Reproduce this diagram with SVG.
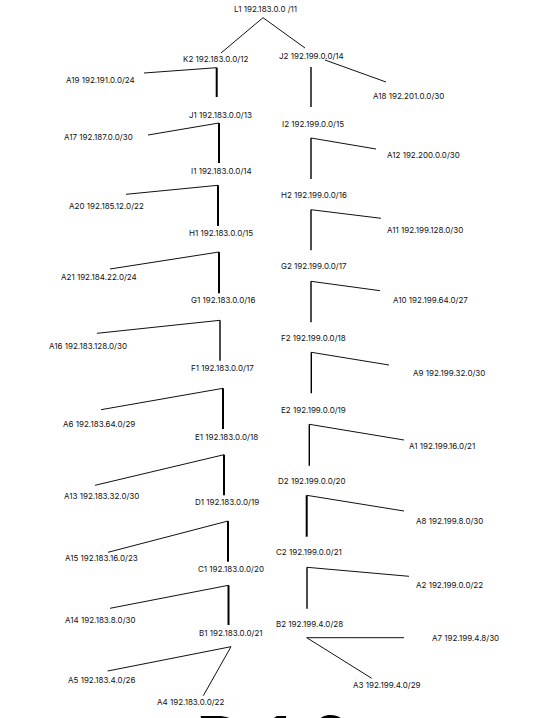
<svg xmlns="http://www.w3.org/2000/svg" width="545" height="718" viewBox="0 0 545 718">
<style>
text{font-family:Inter,"Liberation Sans",sans-serif;font-size:8px;fill:#111}
.big{font-size:72px;font-weight:500;fill:#000;letter-spacing:15px}
.s{stroke:#111;stroke-width:1;fill:none}
.tl{stroke:#000;stroke-width:2;fill:none}
.tr{stroke:#000;stroke-width:1.4;fill:none}
</style>
<rect width="545" height="718" fill="#fff"/>
<g id="connectors">
<path class="s" d="M221,53 L263,17.7 L305,48"/>
<path class="s" d="M144,73 L216.7,67.7"/><path class="tl" d="M216.7,67.7 V97"/>
<path class="s" d="M325,60 L386,82"/><path class="tr" d="M311,67 V107"/>
<path class="s" d="M148,135 L219,123"/><path class="tl" d="M219,123 V163"/>
<path class="s" d="M311,138 L376,149"/><path class="tr" d="M311,138 V179"/>
<path class="s" d="M126,194.3 L218,185.3"/><path class="tl" d="M218,185.3 V226"/>
<path class="s" d="M311,209.7 L381,218.3"/><path class="tr" d="M311,209.7 V250.3"/>
<path class="s" d="M110,269 L219,252"/><path class="tl" d="M219,252 V293.3"/>
<path class="s" d="M311,281.3 L380,290.7"/><path class="tr" d="M311,281.3 V322.3"/>
<path class="s" d="M97,333.3 L220,320.3"/><path class="tr" d="M220,320.3 V360.7"/>
<path class="s" d="M311.3,352.3 L389,365"/><path class="tr" d="M311.3,352.3 V393.3"/>
<path class="s" d="M101,409.7 L223,388.3"/><path class="tl" d="M223,388.3 V429"/>
<path class="s" d="M309.3,424.3 L404,440"/><path class="tr" d="M309.3,424.3 V465.7"/>
<path class="s" d="M95,485.3 L224,454.7"/><path class="tl" d="M224,454.7 V495.3"/>
<path class="s" d="M306.7,495.3 L404,511"/><path class="tl" d="M306.7,495.3 V536.7"/>
<path class="s" d="M108,552.3 L228,521"/><path class="tl" d="M228,521 V561.7"/>
<path class="s" d="M307,567.3 L409,576.3"/><path class="tr" d="M307,567.3 V608.7"/>
<path class="s" d="M110,608.3 L228.5,585.3"/><path class="tl" d="M228.5,585.3 V625"/>
<path class="s" d="M404,637.7 L306.7,637.7 L371.7,678.3"/>
<path class="s" d="M107.7,671 L231,646.7 L203.3,695.7"/>
</g>
<g id="L1"><text x="234" y="11.5">L1 192.183.0.0 /11</text></g>
<g id="K2"><text x="183" y="62">K2 192.183.0.0/12</text></g>
<g id="J2"><text x="279" y="59">J2 192.199.0.0/14</text></g>
<g id="A19"><text x="66" y="83">A19 192.191.0.0/24</text></g>
<g id="A18"><text x="373" y="98.5">A18 192.201.0.0/30</text></g>
<g id="J1"><text x="189" y="118">J1 192.183.0.0/13</text></g>
<g id="A17"><text x="64" y="139.5">A17 192.187.0.0/30</text></g>
<g id="I2"><text x="282" y="127">I2 192.199.0.0/15</text></g>
<g id="A12"><text x="387" y="157.5">A12 192.200.0.0/30</text></g>
<g id="I1"><text x="191" y="174">I1 192.183.0.0/14</text></g>
<g id="A20"><text x="69" y="208.5">A20 192.185.12.0/22</text></g>
<g id="H2"><text x="281" y="197.5">H2 192.199.0.0/16</text></g>
<g id="A11"><text x="387" y="233">A11 192.199.128.0/30</text></g>
<g id="H1"><text x="189" y="236">H1 192.183.0.0/15</text></g>
<g id="A21"><text x="61" y="280">A21 192.184.22.0/24</text></g>
<g id="G2"><text x="281" y="269">G2 192.199.0.0/17</text></g>
<g id="A10"><text x="393" y="303">A10 192.199.64.0/27</text></g>
<g id="G1"><text x="191" y="302.5">G1 192.183.0.0/16</text></g>
<g id="A16"><text x="49" y="349">A16 192.183.128.0/30</text></g>
<g id="F2"><text x="281" y="341">F2 192.199.0.0/18</text></g>
<g id="F1"><text x="191" y="370.5">F1 192.183.0.0/17</text></g>
<g id="A9"><text x="413" y="375.5">A9 192.199.32.0/30</text></g>
<g id="A6"><text x="63" y="427">A6 192.183.64.0/29</text></g>
<g id="E2"><text x="281" y="412.5">E2 192.199.0.0/19</text></g>
<g id="A1"><text x="409" y="449">A1 192.199.16.0/21</text></g>
<g id="E1"><text x="195" y="439.5">E1 192.183.0.0/18</text></g>
<g id="A13"><text x="64" y="498.5">A13 192.183.32.0/30</text></g>
<g id="D2"><text x="278" y="484">D2 192.199.0.0/20</text></g>
<g id="D1"><text x="195" y="505">D1 192.183.0.0/19</text></g>
<g id="A8"><text x="416" y="523.5">A8 192.199.8.0/30</text></g>
<g id="A15"><text x="65" y="561">A15 192.183.16.0/23</text></g>
<g id="C2"><text x="276" y="555">C2 192.199.0.0/21</text></g>
<g id="A2"><text x="416" y="588">A2 192.199.0.0/22</text></g>
<g id="C1"><text x="198" y="571.5">C1 192.183.0.0/20</text></g>
<g id="A14"><text x="65" y="622.5">A14 192.183.8.0/30</text></g>
<g id="B2"><text x="276" y="627">B2 192.199.4.0/28</text></g>
<g id="A7"><text x="432" y="640.5">A7 192.199.4.8/30</text></g>
<g id="A3"><text x="353" y="687.5">A3 192.199.4.0/29</text></g>
<g id="B1"><text x="199" y="636">B1 192.183.0.0/21</text></g>
<g id="A5"><text x="68" y="683">A5 192.183.4.0/26</text></g>
<g id="A4"><text x="157" y="704.5">A4 192.183.0.0/22</text></g>
<g id="caption"><text class="big" x="195" y="768">D16</text></g>
</svg>
